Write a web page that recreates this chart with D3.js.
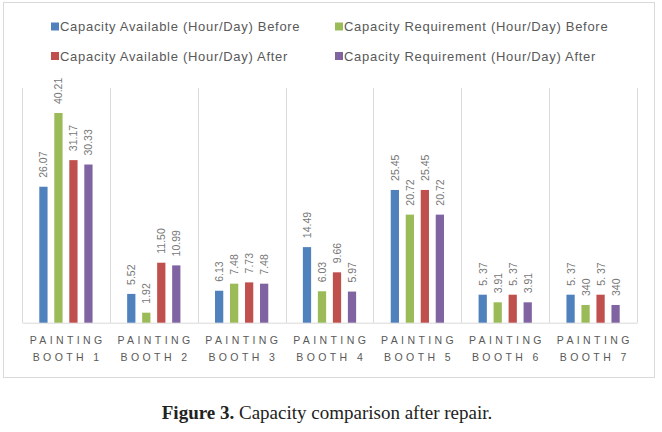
<!DOCTYPE html>
<html>
<head>
<meta charset="utf-8">
<script src="https://cdn.jsdelivr.net/npm/d3@7"></script>
<style>
  body { margin: 0; background: #fff; }
  svg { display: block; }
</style>
</head>
<body>
<div id="chart"></div>
<script>
// Daten
const categories = ["PAINTING BOOTH 1", "PAINTING BOOTH 2", "PAINTING BOOTH 3", "PAINTING BOOTH 4",
                    "PAINTING BOOTH 5", "PAINTING BOOTH 6", "PAINTING BOOTH 7"];
const seriesNames = ["Capacity Available (Hour/Day) Before", "Capacity Requirement (Hour/Day) Before",
                     "Capacity Available (Hour/Day) After", "Capacity Requirement (Hour/Day) After"];
const availBefore = [26.07, 5.52, 6.13, 14.49, 25.45, 5.37, 5.37];
const reqBefore   = [40.21, 1.92, 7.48, 6.03, 20.72, 3.91, 3.40];
const availAfter  = [31.17, 11.50, 7.73, 9.66, 25.45, 5.37, 5.37];
const reqAfter    = [30.33, 10.99, 7.48, 5.97, 20.72, 3.91, 3.40];
// Beschriftungen wie im Original
const availBeforeText = ["26.07", "5.52", "6.13", "14.49", "25.45", "5. 37", "5. 37"];
const reqBeforeText   = ["40.21", "1.92", "7.48", "6.03", "20.72", "3.91", "340"];
const availAfterText  = ["31.17", "11.50", "7.73", "9.66", "25.45", "5. 37", "5. 37"];
const reqAfterText    = ["30.33", "10.99", "7.48", "5.97", "20.72", "3.91", "340"];
const yMax = 45;

const colors = ["#4F81BD", "#9BBB59", "#C0504D", "#8064A2"];
const values = [availBefore, reqBefore, availAfter, reqAfter];
const texts = [availBeforeText, reqBeforeText, availAfterText, reqAfterText];

const width = 662, height = 432;
const plot = {left: 22, right: 637, top: 88, bottom: 322.7};

const svg = d3.select("#chart").append("svg")
    .attr("width", width)
    .attr("height", height);

svg.append("rect")
    .attr("width", width).attr("height", height)
    .attr("fill", "#fff");

// Rahmen
svg.append("rect")
    .attr("x", 3.5).attr("y", 2.5)
    .attr("width", 651).attr("height", 375)
    .attr("fill", "none")
    .attr("stroke", "#d9d9d9");

// Skalen
const x0 = d3.scaleBand()
    .domain(categories)
    .range([plot.left, plot.right]);

const x1 = d3.scaleBand()
    .domain(d3.range(seriesNames.length))
    .range([17.3, x0.bandwidth() - 17.3])
    .paddingInner(0.45);

const y = d3.scaleLinear()
    .domain([0, yMax])
    .range([plot.bottom, plot.top]);

// Trennlinien zwischen Kategorien
svg.append("g")
    .selectAll("line")
    .data(categories.concat([null]))
    .join("line")
    .attr("x1", (d, i) => Math.round(plot.left + i * x0.step()) + 0.5)
    .attr("x2", (d, i) => Math.round(plot.left + i * x0.step()) + 0.5)
    .attr("y1", y(yMax))
    .attr("y2", y(0))
    .attr("stroke", "#d9d9d9");

// x-Achse
const xAxis = svg.append("g")
    .attr("transform", `translate(0,${y(0)})`)
    .call(d3.axisBottom(x0).tickSize(0).tickFormat(""));
xAxis.select(".domain").attr("stroke", "#d9d9d9");

// Kategorie-Beschriftungen (zweizeilig)
const ls = 3.4;
const catLabel = xAxis.selectAll(".tick")
    .append("text")
    .attr("fill", "#595959")
    .attr("font-family", "Liberation Sans, Arial, sans-serif")
    .attr("font-size", 10.5)
    .attr("letter-spacing", ls)
    .attr("text-anchor", "middle");

catLabel.selectAll("tspan")
    .data(d => {
        const parts = d.split(" ");
        return [parts[0], parts.slice(1).join(" ")];
    })
    .join("tspan")
    .attr("x", ls / 2)
    .attr("y", (d, i) => 21 + i * 17)
    .text(d => d);

// Balken
const groups = svg.append("g")
    .selectAll("g")
    .data(categories)
    .join("g")
    .attr("transform", d => `translate(${x0(d)},0)`);

groups.selectAll("rect")
    .data((d, ci) => values.map((s, si) => ({si, v: s[ci]})))
    .join("rect")
    .attr("x", d => x1(d.si))
    .attr("width", x1.bandwidth())
    .attr("y", d => y(d.v))
    .attr("height", d => y(0) - y(d.v))
    .attr("fill", d => colors[d.si]);

// Wertebeschriftungen (gedreht)
groups.selectAll("text")
    .data((d, ci) => values.map((s, si) => ({si, v: s[ci], t: texts[si][ci]})))
    .join("text")
    .attr("transform", d => `translate(${x1(d.si) + x1.bandwidth() / 2},${y(d.v) - 9}) rotate(-90)`)
    .attr("text-anchor", "start")
    .attr("dominant-baseline", "central")
    .attr("fill", "#767676")
    .attr("font-family", "Liberation Sans, Arial, sans-serif")
    .attr("font-size", 10.5)
    .text(d => d.t);

// Legende
const legendPos = [[51, 26.5], [335, 26.5], [51, 56], [335, 56]];
const legend = svg.append("g")
    .selectAll("g")
    .data(seriesNames)
    .join("g")
    .attr("transform", (d, i) => `translate(${legendPos[i][0]},${legendPos[i][1]})`);

legend.append("rect")
    .attr("x", 0).attr("y", -4)
    .attr("width", 8).attr("height", 8)
    .attr("fill", (d, i) => colors[i]);

legend.append("text")
    .attr("x", 9)
    .attr("dominant-baseline", "central")
    .attr("fill", "#595959")
    .attr("font-family", "Liberation Sans, Arial, sans-serif")
    .attr("font-size", 13)
    .attr("letter-spacing", 0.7)
    .text(d => d);

// Bildunterschrift
const caption = svg.append("text")
    .attr("x", 327)
    .attr("y", 418.5)
    .attr("text-anchor", "middle")
    .attr("font-family", "Liberation Serif, Times New Roman, serif")
    .attr("font-size", 19)
    .attr("fill", "#222");
caption.append("tspan").attr("font-weight", "bold").text("Figure 3.");
caption.append("tspan").text(" Capacity comparison after repair.");
</script>
</body>
</html>
